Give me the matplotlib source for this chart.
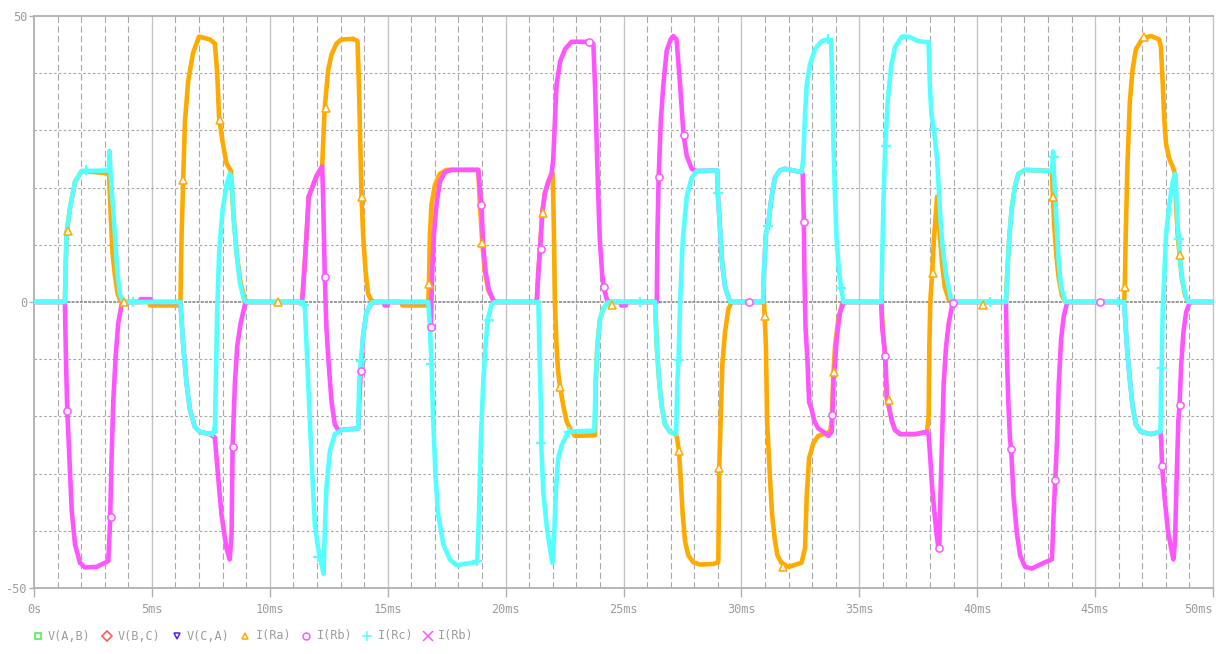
import matplotlib
matplotlib.use("Agg")
import matplotlib.pyplot as plt
from matplotlib.lines import Line2D

# ---------------- data (time in ms, current) ----------------
ra_t = [0, 1.31, 1.38, 1.53, 1.74, 2.02, 3.18, 3.26, 3.33, 3.43, 3.55, 3.66, 3.75,
        4.9, 4.92, 6.15, 6.21, 6.26, 6.33, 6.40, 6.54, 6.75, 7.00, 7.46, 7.67, 7.77, 7.85, 7.99, 8.16, 8.35,
        8.45, 8.59, 8.76, 8.94, 9.05,
        11.37, 11.46, 11.56, 11.65, 11.77, 11.98, 12.22, 12.33, 12.48, 12.62, 12.83, 13.04, 13.54, 13.72,
        13.78, 13.85, 13.89, 13.96, 14.06, 14.17, 14.31, 14.4,
        15.6, 15.62, 16.65, 16.72, 16.75, 16.79, 16.86, 17.0, 17.21, 17.5, 18.84, 18.91, 19.01, 19.12, 19.26,
        19.48, 19.6,
        21.32, 21.39, 21.46, 21.56, 21.67, 21.81, 21.95, 22.0, 22.05, 22.09, 22.16, 22.23, 22.31, 22.45,
        22.59, 22.76, 22.94, 23.79, 23.82, 23.89, 24.0, 24.14, 24.36,
        26.34, 26.41, 26.52, 26.62, 26.76, 26.97, 27.23, 27.28, 27.35, 27.42, 27.51, 27.61, 27.75, 27.96,
        28.25, 28.81, 29.02, 29.05, 29.06, 29.12, 29.19, 29.31, 29.45, 29.59,
        30.96, 31.04, 31.09, 31.21, 31.30, 31.42, 31.53, 31.7, 31.99, 32.55, 32.7, 32.77, 32.87, 33.05,
        33.26, 33.48, 33.76, 33.83, 33.9, 33.97, 34.11, 34.26, 34.35,
        35.93, 36.0, 36.1, 36.17, 36.24, 36.38, 36.52, 36.74, 37.38, 37.87, 37.94, 37.97, 38.01, 38.09,
        38.16, 38.23, 38.3, 38.34, 38.41, 38.51, 38.62, 38.79, 38.9,
        41.22, 41.28, 41.37, 41.47, 41.61, 41.75, 42.03, 43.17, 43.21, 43.27, 43.36, 43.46, 43.6, 43.74,
        46.23, 46.26, 46.3, 46.37, 46.47, 46.59, 46.73, 46.94, 47.08, 47.37, 47.72, 47.79, 47.87, 47.94,
        48.01, 48.15, 48.29, 48.39, 48.43, 48.5, 48.58, 48.68, 48.82, 48.95, 50]
ra_v = [0, 0, 11.9, 16.5, 21, 22.9, 22.5, 14.5, 8.6, 4.7, 1.4, 0.2, 0,
        0, -0.6, -0.6, 0, 11.9, 21.4, 31.5, 38.7, 43.6, 46.4, 45.9, 45.2, 40, 32.2, 28.2, 24.3, 22.9,
        15.8, 8.6, 3.4, 0.5, 0,
        0, 5.4, 11.9, 18.4, 19.7, 22, 23.7, 34, 40.7, 43.3, 45.2, 45.9, 46, 45.6,
        38, 25, 18.4, 11.6, 5.4, 1.4, 0.3, 0,
        0, -0.6, -0.6, 0, 3.1, 11.9, 17.1, 20.4, 22.4, 23.1, 23.1, 17.1, 10.3, 5.4, 2.1,
        0.3, 0,
        0, 5.4, 9.3, 15.8, 19.1, 21, 22.4, 22.4, 11.9, 0, -7.7, -12.3, -14.9, -18.2,
        -20.9, -22.4, -23.4, -23.3, -14.2, -7.7, -3.1, -1.2, 0,
        0, -7.7, -14.2, -18.2, -21.4, -22.7, -23.1, -24, -26, -30.6, -37.1, -41.8, -44.3, -45.5,
        -45.9, -45.8, -45.5, -33.9, -29, -20.8, -11, -5.1, -1.2, 0,
        0, -7.7, -20.8, -30.6, -37.1, -41.7, -44.3, -45.6, -46.3, -45.6, -43, -33.9, -27.3, -24.7,
        -23.4, -23.1, -22.7, -20.8, -12.9, -7.7, -3.1, -0.5, 0,
        0, -5, -9.5, -16.9, -18, -20.8, -22.4, -23.1, -23.1, -22.7, -20, -7.7, 0, 5,
        10.6, 14.5, 18.4, 16.5, 11.9, 6.7, 2.7, 0.5, 0,
        0, 5.4, 11.9, 16.5, 20.4, 22.4, 23.1, 22.9, 18.4, 13.2, 8, 4.1, 1.1, 0,
        0, 3.1, 11.9, 23.7, 34.8, 40.7, 44.2, 45.6, 46.2, 46.5, 45.9, 44.6, 38, 31.5,
        27.6, 25, 23.7, 22.4, 17.1, 11.9, 8.3, 4.1, 1.1, 0, 0]

rb_t = [0, 1.31, 1.36, 1.41, 1.5, 1.6, 1.74, 1.95, 2.16, 2.66, 3.15, 3.22, 3.29, 3.36, 3.46, 3.57, 3.71,
        3.8, 4.5, 4.52, 4.95, 4.97, 6.21, 6.33, 6.47, 6.61, 6.82, 7.03, 7.46, 7.67, 7.81, 7.95, 8.16,
        8.3, 8.38, 8.42, 8.52, 8.62, 8.76, 8.94, 9.05,
        11.37, 11.46, 11.56, 11.65, 11.77, 11.98, 12.22, 12.26, 12.33, 12.4, 12.5, 12.62, 12.76, 12.9,
        13.75, 13.8, 13.86, 13.96, 14.1, 14.31, 14.4, 14.85, 14.87, 15.0, 15.02,
        16.79, 16.83, 16.89, 16.96, 17.07, 17.21, 17.43, 17.71, 18.84, 18.91, 18.98, 19.05, 19.15,
        19.29, 19.48, 19.6,
        21.32, 21.39, 21.46, 21.56, 21.67, 21.81, 21.95, 22.02, 22.09, 22.16, 22.31, 22.52, 22.8, 23.51,
        23.72, 23.79, 23.86, 23.93, 24.0, 24.1, 24.17, 24.29, 24.4, 24.88, 24.9, 25.1, 25.12,
        26.41, 26.44, 26.49, 26.58, 26.69, 26.83, 27.0, 27.11, 27.25, 27.4, 27.54, 27.68, 27.89, 28.1,
        28.98, 29.0, 29.09, 29.19, 29.31, 29.52,
        30.92, 30.96, 31.04, 31.13, 31.28, 31.42, 31.63, 31.84, 32.55, 32.6, 32.65, 32.67, 32.72,
        32.81, 32.87, 32.98, 33.09, 33.26, 33.48, 33.69, 33.83, 33.86, 33.91, 33.97, 34.04, 34.18,
        34.33, 34.4,
        35.93, 35.97, 36.1, 36.17, 36.24, 36.38, 36.52, 36.74, 37.38, 37.87, 37.94, 38.01, 38.09,
        38.18, 38.27, 38.34, 38.37, 38.4, 38.44, 38.51, 38.58, 38.68, 38.79, 38.94, 39.05,
        41.22, 41.25, 41.32, 41.39, 41.44, 41.54, 41.68, 41.82, 42.03, 42.32, 42.82, 43.17, 43.24,
        43.31, 43.39, 43.46, 43.56, 43.67, 43.81, 43.9,
        46.23, 46.3, 46.37, 46.49, 46.59, 46.73, 46.94, 47.37, 47.77, 47.8, 47.84, 47.94, 48.08,
        48.22, 48.32, 48.39, 48.46, 48.53, 48.58, 48.65, 48.75, 48.86, 49.0, 49.1, 50]
rb_v = [0, 0, -11, -18.8, -27.3, -36.5, -42.4, -45.6, -46.4, -46.3, -45.3, -39.1, -27.3, -17.5, -9.7,
        -3.8, -0.5, 0, 0, 0.5, 0.5, 0, 0, -7.7, -14.2, -18.8, -21.8, -22.7, -23.1, -23.7, -30.6, -37.1,
        -43, -45, -40.4, -25.4, -14.2, -7.7, -3.8, -0.5, 0,
        0, 5.4, 11.9, 18.4, 19.7, 22, 23.7, 18.4, 4.7, -4.4, -11, -17.5, -21.4, -22.4,
        -22.1, -17, -12, -5.8, -1.8, -0.2, 0, 0, -0.6, -0.6, 0,
        0, -4.4, 5.4, 11.9, 17.1, 21, 22.7, 23.1, 23.1, 19.7, 16.5, 9.9, 5.4,
        2.1, 0.3, 0,
        0, 5.4, 9.3, 15.8, 19.1, 21, 22.4, 25, 31.5, 38, 42, 44.2, 45.5, 45.5,
        45.2, 38, 28.2, 18.3, 10.5, 4.6, 2.4, 0.5, 0, 0, -0.6, -0.6, 0,
        0, 11.9, 21.7, 31.5, 38, 43.9, 45.9, 46.5, 45.9, 38, 29.4, 25.6, 23.3, 22.9,
        23, 19, 13.2, 6.5, 2.6, 0,
        0, 5.4, 11.9, 13.3, 18.4, 21.7, 23, 23.3, 22.7, 22.4, 13.9, 5.4, -4.4,
        -11, -17.5, -18.8, -20.8, -22.1, -22.7, -23.4, -22.7, -19.8, -12.9, -11, -6.4, -1.8,
        -0.2, 0,
        0, -4.4, -9.5, -16.9, -18, -20.8, -22.4, -23.1, -23.1, -22.7, -23.3, -27.3, -32.5,
        -36.5, -40.4, -42.5, -43, -41.7, -33.9, -24, -14.2, -7.7, -3.8, -0.5, 0,
        0, -7.7, -17.5, -24, -25.7, -33.9, -40.4, -44.3, -46.3, -46.6, -45.6, -45, -37.1,
        -31.1, -24, -14.2, -6.4, -2.5, -0.2, 0,
        0, -4.4, -9, -14.2, -18.2, -21.4, -22.7, -23.1, -22.7, -24, -28.6, -33.9, -39.7,
        -43, -45, -41.7, -30.6, -20.8, -18, -11, -5.1, -1.8, -0.2, 0, 0]

rc_t = [0, 1.31, 1.38, 1.53, 1.74, 2.02, 3.18, 3.2, 3.24, 3.29, 3.43, 3.53, 3.64, 3.79,
        6.21, 6.33, 6.47, 6.61, 6.82, 7.03, 7.46, 7.67, 7.71, 7.77, 7.85, 7.99, 8.16, 8.3, 8.38, 8.47,
        8.59, 8.73, 8.9, 9.0,
        11.4, 11.49, 11.63, 11.77, 11.91, 12.05, 12.2, 12.28, 12.33, 12.4, 12.55, 12.76, 13.04, 13.75,
        13.79, 13.86, 13.96, 14.1, 14.31, 14.4,
        16.72, 16.79, 16.86, 16.93, 17.03, 17.14, 17.36, 17.64, 17.92, 18.56, 18.8, 18.87, 18.95,
        19.05, 19.15, 19.24, 19.4, 19.55,
        21.39, 21.43, 21.49, 21.51, 21.6, 21.74, 21.88, 21.98, 22.05, 22.14, 22.23, 22.38, 22.66,
        23.01, 23.76, 23.82, 23.89, 24.0, 24.14, 24.36,
        26.34, 26.41, 26.52, 26.62, 26.76, 26.97, 27.23, 27.28, 27.33, 27.4, 27.51, 27.68, 27.89,
        28.1, 28.98, 29.0, 29.09, 29.19, 29.31, 29.52,
        30.92, 30.96, 31.04, 31.13, 31.28, 31.42, 31.63, 31.84, 32.55, 32.62, 32.7, 32.77, 32.91,
        33.12, 33.4, 33.69, 33.8, 33.86, 33.9, 33.97, 34.04, 34.14, 34.23, 34.33,
        35.93, 35.96, 36.03, 36.1, 36.21, 36.35, 36.52, 36.81, 37.09, 37.52, 37.94, 37.99, 38.06,
        38.16, 38.3, 38.37, 38.44, 38.54, 38.68, 38.87, 39.0,
        41.22, 41.28, 41.37, 41.47, 41.61, 41.75, 42.03, 42.53, 43.17, 43.22, 43.26, 43.31, 43.39,
        43.46, 43.56, 43.74,
        46.23, 46.3, 46.37, 46.49, 46.59, 46.73, 46.94, 47.37, 47.77, 47.8, 47.82, 47.87, 47.94,
        48.01, 48.15, 48.29, 48.39, 48.43, 48.5, 48.55, 48.62, 48.72, 48.86, 48.97, 50]
rc_v = [0, 0, 11.9, 16.5, 21, 22.9, 23, 26.4, 23, 20, 11.9, 5.4, 1.4, 0,
        0, -7.7, -14.2, -18.8, -21.8, -22.7, -23.1, -22.7, -14.2, -1.2, 8.6, 15.8, 20.4, 22.4, 21.7, 14.5,
        8.6, 3.4, 0.5, 0,
        0, -1.2, -14.2, -27.3, -39, -43, -46, -47.5, -40.4, -32.5, -26, -23.1, -22.4, -22.1,
        -14.2, -10.3, -5.8, -1.8, -0.2, 0,
        0, -4.4, -11, -20.8, -30.6, -37.1, -42.4, -45, -46, -45.6, -45.3, -37.1, -24,
        -14.2, -7.7, -3.1, -0.5, 0,
        0, -7.7, -17.5, -24.6, -33.3, -39.1, -43, -45.6, -41.8, -32.5, -27.3, -25, -22.7,
        -22.6, -22.5, -14.2, -7.7, -3.1, -1.2, 0,
        0, -7.7, -14.2, -18.2, -21.4, -22.7, -23.1, -14.2, -10.3, 0, 10.6, 18.4, 21.7,
        22.9, 23, 19, 13.2, 6.5, 2.6, 0,
        0, 5.4, 11.9, 13.3, 18.4, 21.7, 23, 23.3, 22.7, 25, 32.8, 38, 41.6,
        44.2, 45.6, 45.9, 45.6, 38, 28.2, 18.4, 10.6, 5.4, 2.4, 0,
        0, 5.4, 18.4, 27.2, 35.4, 41.3, 44.6, 46.4, 46.4, 45.6, 45.4, 38, 32.8,
        30.2, 25, 19.7, 14.5, 9.3, 4.7, 0.8, 0,
        0, 5.4, 11.9, 16.5, 20.4, 22.4, 23.1, 23, 22.9, 26.3, 22, 18.4, 11.9,
        6.7, 2.7, 0,
        0, -4.4, -9, -14.2, -18.2, -21.4, -22.7, -23.1, -22.7, -14.2, -11.5, -1.2, 5.4,
        11.9, 17.1, 21, 22.4, 20.4, 13.2, 11.1, 6.7, 3.4, 0.8, 0, 0]

# symbol markers drawn on the traces (time ms, value)
ra_mk_t = [1.43, 3.82, 6.33, 7.88, 10.35, 12.38, 13.89, 16.75, 19.01, 21.6, 22.31, 24.5, 27.35, 29.05,
           31.02, 31.77, 33.91, 36.24, 38.11, 40.23, 43.21, 46.26, 47.08, 48.58]
ra_mk_v = [12.5, 0, 21.4, 31.8, 0, 34, 18.4, 3.1, 10.3, 15.5, -14.9, -0.5, -26, -29,
           -2.5, -46.3, -12.3, -17.2, 5, -0.5, 18.4, 2.7, 46.4, 8.3]
rb_mk_t = [1.41, 3.25, 8.45, 12.36, 13.86, 16.83, 18.95, 21.49, 23.54, 24.17, 26.49, 27.57,
           30.33, 32.65, 33.86, 36.1, 38.37, 38.98, 41.44, 43.31, 45.21, 47.84, 48.58]
rb_mk_v = [-19, -37.5, -25.4, 4.4, -12, -4.4, 17, 9.3, 45.4, 2.6, 21.8, 29.2,
           0, 13.9, -19.8, -9.5, -43, -0.2, -25.7, -31.1, 0, -28.6, -18]
rc_mk_t = [2.2, 4.21, 7.57, 8.23, 11.46, 12.05, 13.85, 16.82, 18.8, 19.29, 21.51, 22.69, 25.7,
           27.35, 29.0, 31.13, 33.69, 34.23, 36.13, 38.16, 40.54, 43.27, 45.95, 47.82, 48.55]
rc_mk_v = [23, 0, -22.7, 20.4, -0.5, -44.6, -10.3, -10.8, -45.3, -3.1, -24.6, -22.7, 0,
           -10.2, 19, 13.3, 45.9, 2.4, 27.3, 30.2, 0, 25.3, 0, -11.5, 11.1]

x_ticks = [0, 5, 10, 15, 20, 25, 30, 35, 40, 45, 50]
x_labels = ["0s", "5ms", "10ms", "15ms", "20ms", "25ms", "30ms", "35ms", "40ms", "45ms", "50ms"]
y_ticks = [-50, 0, 50]
y_labels = ["-50", "0", "50"]

legend_labels = ["V(A,B)", "V(B,C)", "V(C,A)", "I(Ra)", "I(Rb)", "I(Rc)", "I(Rb)"]

# ---------------- styling ----------------
plt.rcParams['lines.scale_dashes'] = False
W, H = 1216, 654
fig = plt.figure(figsize=(W / 100, H / 100), dpi=100)
fig.patch.set_facecolor("white")
ax = fig.add_axes([34 / W, (H - 588) / H, 1179 / W, 572 / H])
ax.set_facecolor("white")
ax.set_xlim(0, 50)
ax.set_ylim(-50, 50)

GRID = "#A8A8A8"
TXT = "#9C9C9C"
C_RA = "#FFAA00"
C_RB = "#FF55FF"
C_RC = "#55FFFF"
FONT = "DejaVu Sans Mono"

# grid
for t in range(1, 50):
    if t % 5 == 0:
        ax.axvline(t, color="#C4C4C4", lw=1.0, zorder=1)
    else:
        ax.axvline(t, color=GRID, lw=0.8, dashes=(4.5, 2.4), zorder=1)
for v in range(-40, 50, 10):
    if v == 0:
        continue
    ax.axhline(v, color=GRID, lw=0.8, dashes=(1.9, 1.6), zorder=1)
ax.axhline(0, color="#999999", lw=1.4, dashes=(2.2, 0.8), zorder=1)

for s in ["left", "bottom", "top", "right"]:
    ax.spines[s].set_color("#B0B0B0")
    ax.spines[s].set_linewidth(1.3)
ax.spines["right"].set_color("#C4C4C4")
ax.spines["right"].set_linewidth(1.0)

ax.set_xticks(x_ticks)
ax.set_xticklabels(x_labels, fontfamily=FONT, fontsize=8.6, color=TXT)
ax.get_xticklabels()[-1].set_horizontalalignment("right")
ax.set_yticks(y_ticks)
ax.set_yticklabels(y_labels, fontfamily=FONT, fontsize=8.6, color=TXT)
ax.tick_params(axis="x", length=6.5, width=1.0, color="#B0B0B0", pad=4)
ax.tick_params(axis="y", length=3.5, width=1.0, color="#B0B0B0", pad=1.5)

lw = 3.3
ms = 6.0
# traces (orange below magenta below cyan)
ax.plot(ra_t, ra_v, color=C_RA, lw=lw, zorder=3, solid_joinstyle="round")
ax.plot(rb_t, rb_v, color=C_RB, lw=lw, zorder=4, solid_joinstyle="round")
ax.plot(rc_t, rc_v, color=C_RC, lw=lw, zorder=5, solid_joinstyle="round")
# symbol markers on top of all traces
ax.plot(ra_mk_t, ra_mk_v, ls="none", marker="^", ms=ms, mfc="white", mec=C_RA, mew=1.1, zorder=6)
ax.plot(rb_mk_t, rb_mk_v, ls="none", marker="o", ms=5.2, mfc="white", mec=C_RB, mew=1.1, zorder=6)
ax.plot(rc_mk_t, rc_mk_v, ls="none", marker="+", ms=7.5, mec=C_RC, mew=1.6, zorder=6)

# legend row at bottom
leg_markers = [("s", "#44EE44"), ("D", "#FF5050"), ("v", "#5020F0"), ("^", C_RA),
               ("o", C_RB), ("+", C_RC), ("x", C_RB)]
leg_mx = [38, 107, 177, 245, 306, 367, 428]
leg_tx = [48, 118, 187, 256, 317, 378, 438]
ly = 1 - 636 / H
for (m, c), mx, tx, lab in zip(leg_markers, leg_mx, leg_tx, legend_labels):
    filled = m in ("+", "x")
    fig.add_artist(Line2D([mx / W], [ly], transform=fig.transFigure, ls="none", marker=m,
                          ms=5 if not filled else 6.5, mfc="none", mec=c, mew=1.1))
    fig.text(tx / W, ly, lab, fontfamily=FONT, fontsize=8.6, color=TXT, va="center", ha="left")

fig.savefig("out.png", dpi=100, facecolor="white")
